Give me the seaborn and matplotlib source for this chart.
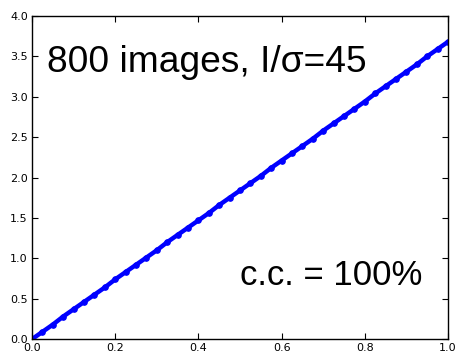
import matplotlib
matplotlib.use("Agg")
import matplotlib.pyplot as plt
import seaborn as sns
import pandas as pd

# Punkty
x_vals = [0.0, 0.025, 0.05, 0.075, 0.1, 0.125, 0.15, 0.175, 0.2, 0.225,
          0.25, 0.275, 0.3, 0.325, 0.35, 0.375, 0.4, 0.425, 0.45, 0.475,
          0.5, 0.525, 0.55, 0.575, 0.6, 0.625, 0.65, 0.675, 0.7, 0.725,
          0.75, 0.775, 0.8, 0.825, 0.85, 0.875, 0.9, 0.925, 0.95, 0.975, 1.0]
y_vals = [0.0, 0.09, 0.18, 0.28, 0.37, 0.46, 0.55, 0.64, 0.74, 0.83,
          0.92, 1.01, 1.10, 1.20, 1.29, 1.38, 1.47, 1.56, 1.66, 1.75,
          1.84, 1.93, 2.02, 2.12, 2.21, 2.30, 2.39, 2.48, 2.58, 2.67,
          2.76, 2.85, 2.94, 3.04, 3.13, 3.22, 3.31, 3.40, 3.50, 3.59, 3.68]
x_ticks = [0.0, 0.2, 0.4, 0.6, 0.8, 1.0]
y_ticks = [0.0, 0.5, 1.0, 1.5, 2.0, 2.5, 3.0, 3.5, 4.0]
title_text = "800 images, I/σ=45"
cc_text = "c.c. = 100%"

df = pd.DataFrame({"x": x_vals, "y": y_vals})

sns.set_style("ticks", {"xtick.direction": "in", "ytick.direction": "in"})
plt.rcParams['font.family'] = ['DejaVu Sans']

fig = plt.figure(figsize=(4.6, 3.54), dpi=100)
ax = fig.add_axes([0.0696, 0.042, 0.9044, 0.913])

sns.lineplot(data=df, x="x", y="y", ax=ax, color="#0000ff", linewidth=3.2,
             marker="o", markersize=4, markeredgecolor="#0000ff")

ax.set_xlim(0, 1)
ax.set_ylim(0, 4)
ax.set_xticks(x_ticks)
ax.set_yticks(y_ticks)
ax.set_xticklabels([f"{t:.1f}" for t in x_ticks])
ax.set_yticklabels([f"{t:.1f}" for t in y_ticks])
ax.tick_params(axis="both", labelsize=8, length=4, width=0.8, pad=3,
               top=True, right=True, direction="in",
               color="black", labelcolor="black")
ax.set_xlabel("")
ax.set_ylabel("")
for s in ax.spines.values():
    s.set_visible(True)
    s.set_linewidth(1.0)
    s.set_color("black")

ax.text(0.036, 0.827, title_text, transform=ax.transAxes, fontsize=26.7,
        family=["Liberation Sans", "DejaVu Sans"], va="baseline", color="black")
ax.text(0.9375, 0.167, cc_text, transform=ax.transAxes, fontsize=25,
        family=["Liberation Sans", "DejaVu Sans"], va="baseline", ha="right",
        color="black")

fig.savefig("out.png", dpi=100)
